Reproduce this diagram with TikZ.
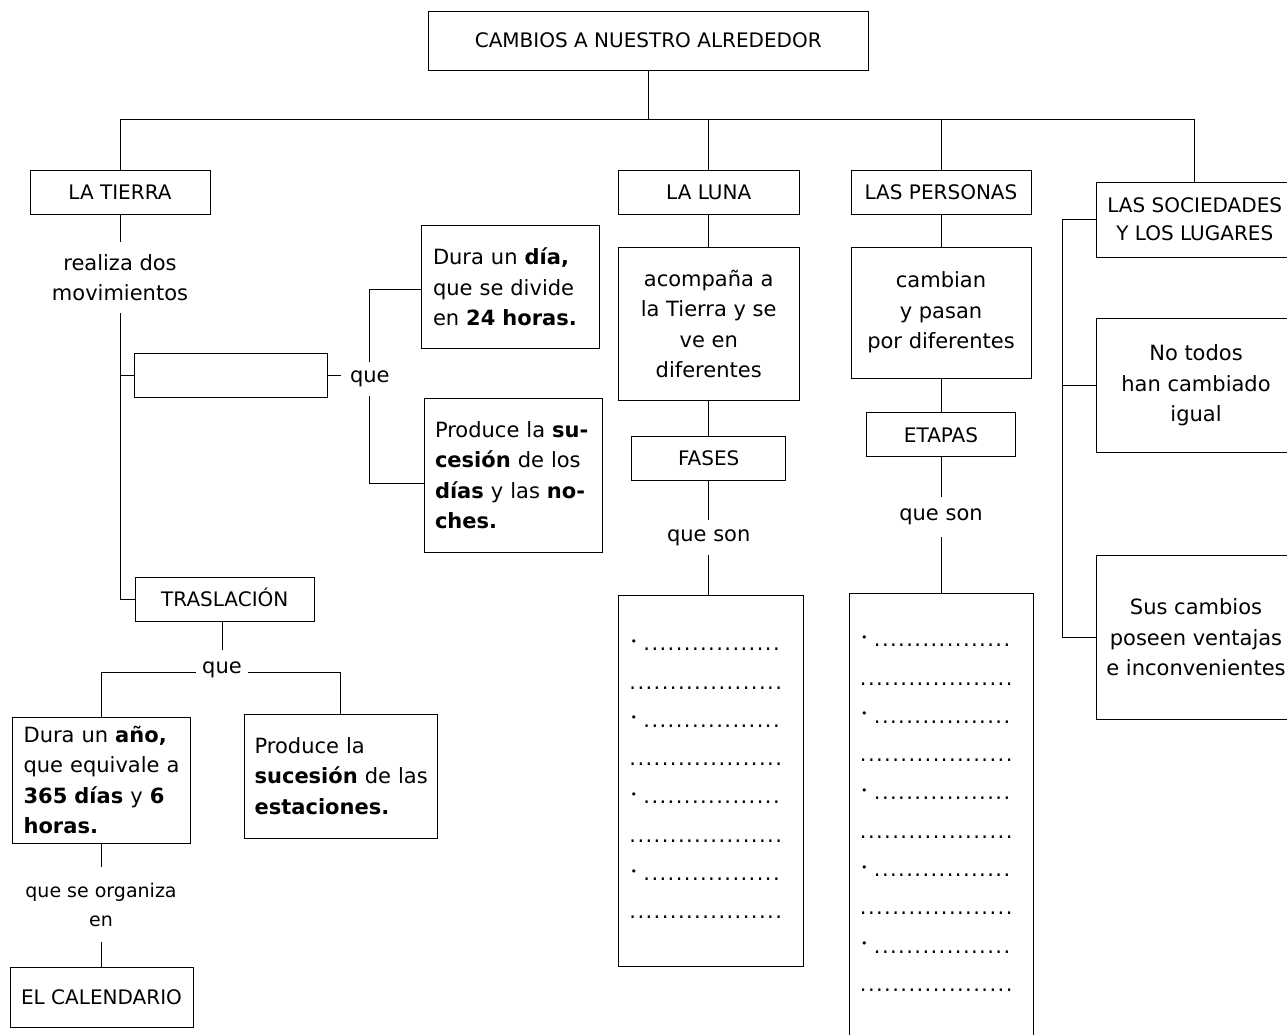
\documentclass[tikz,border=0pt]{standalone}
\usepackage{fontspec}
\setmainfont{DejaVu Sans}
\newcommand\mkdots[1]{\hbox to #1{\leaders\hbox to 8.1pt{\hss.\hss}\hfill}}
\newcommand\mkbul{\hbox{\hbox to 14pt{\hspace{2pt}\raisebox{5.5pt}{\fontsize{11}{11}\selectfont •}\hss}\mkdots{141.5pt}}}
\newcommand\mkplain{\mkdots{156pt}}
\begin{document}
\begin{tikzpicture}[x=1pt,y=-1pt,
  bx/.style={draw, line width=1pt, inner sep=0pt, align=center},
  capsf/.style={font=\fontsize{20}{28}\selectfont},
  capone/.style={capsf, text height=14.6pt, text depth=0pt},
  bodyf/.style={font=\fontsize{21}{30.5}\selectfont},
  lbl/.style={inner sep=0pt, align=center, bodyf},
  conn/.style={line width=1pt},
  dotl/.style={anchor=base west, inner sep=0pt, bodyf}]
\useasboundingbox (0,0) rectangle (1287,1034);
\clip (0,0) rectangle (1287,1034);

% top level
\node[bx,capone,minimum width=440.6pt,minimum height=59pt] (top) at (648.3,40.5) {CAMBIOS A NUESTRO ALREDEDOR};
\node[bx,capone,minimum width=180pt,minimum height=44pt] (tierra) at (120,192) {LA TIERRA};
\node[bx,capone,minimum width=180.6pt,minimum height=44pt] (luna) at (708.7,192) {LA LUNA};
\node[bx,capone,minimum width=180pt,minimum height=44pt] (personas) at (941,192) {LAS PERSONAS};
\node[bx,capsf,minimum width=196.5pt,minimum height=75pt] (soc) at (1194.75,219.5) {LAS SOCIEDADES\\Y LOS LUGARES};

% La Tierra
\node[lbl,minimum height=71pt] (realiza) at (120,277.5) {realiza dos\\movimientos};
\node[bx,minimum width=193pt,minimum height=44pt] (empty) at (230.5,375) {};
\node[lbl,inner xsep=9pt,minimum height=34pt] (que1) at (369.8,379) {que};
\node[bx,bodyf,align=left,text width=154.6pt,inner xsep=11.4pt,minimum height=122.3pt] (dia) at (510.3,286.9)
  {\mbox{Dura un \textbf{día,}}\\\mbox{que se divide}\\\mbox{en \textbf{24 horas.}}};
\node[bx,bodyf,align=left,text width=156pt,inner xsep=11pt,minimum height=154pt] (prod1) at (513,475)
  {\mbox{Produce la \textbf{su-}}\\\mbox{\textbf{cesión} de los}\\\mbox{\textbf{días} y las \textbf{no-}}\\\mbox{\textbf{ches.}}};
\node[bx,capone,minimum width=178.4pt,minimum height=44pt] (tras) at (224.8,599) {TRASLACIÓN};
\node[lbl,inner xsep=6pt,minimum height=38.8pt] (que2) at (222,669.4) {que};
\node[bx,bodyf,align=left,text width=154.8pt,inner xsep=11.6pt,minimum height=126pt] (ano) at (101,780)
  {\mbox{Dura un \textbf{año,}}\\\mbox{que equivale a}\\\mbox{\textbf{365 días} y \textbf{6}}\\\mbox{\textbf{horas.}}};
\node[bx,bodyf,align=left,text width=171.8pt,inner xsep=10.6pt,minimum height=124pt] (prod2) at (340.5,776)
  {\mbox{Produce la}\\\mbox{\textbf{sucesión} de las}\\\mbox{\textbf{estaciones.}}};
\node[lbl,font=\fontsize{19}{29}\selectfont,minimum height=75pt] (orgen) at (101,904.5) {que se organiza\\en};
\node[bx,capone,minimum width=183pt,minimum height=60pt] (cal) at (101.5,997) {EL CALENDARIO};

% La Luna
\node[bx,bodyf,minimum width=180.6pt,minimum height=153.7pt] (lunabox) at (708.7,323.9) {acompaña a\\la Tierra y se\\ve en\\diferentes};
\node[bx,capone,minimum width=154.5pt,minimum height=44pt] (fases) at (708.7,458) {FASES};
\node[lbl,minimum height=35pt] (queson1) at (708.7,537.5) {que son};
\node[bx,minimum width=185.4pt,minimum height=371pt] (lunadots) at (711.1,780.5) {};
\foreach \k in {0,2,4,6} \node[dotl] (lb\k) at (628.5,{650.7+38.3*\k}) {\mkbul};
\foreach \k in {1,3,5,7} \node[dotl] (lb\k) at (628.5,{650.7+38.3*\k}) {\mkplain};

% Las personas
\node[bx,bodyf,minimum width=180pt,minimum height=131pt] (persbox) at (941,312.5) {cambian\\y pasan\\por diferentes};
\node[bx,capone,minimum width=149pt,minimum height=44pt] (etapas) at (941,434.7) {ETAPAS};
\node[lbl,minimum height=40pt] (queson2) at (941,516.7) {que son};
\node[bx,minimum width=184.8pt,minimum height=452pt] (persdots) at (941.4,819) {};
\foreach \k in {0,2,4,6,8} \node[dotl] (pb\k) at (859,{646.7+38.3*\k}) {\mkbul};
\foreach \k in {1,3,5,7,9} \node[dotl] (pb\k) at (859,{646.7+38.3*\k}) {\mkplain};

% Las sociedades
\node[bx,bodyf,minimum width=199pt,minimum height=134.7pt] (notodos) at (1196,385.35) {No todos\\han cambiado\\igual};
\node[bx,bodyf,minimum width=199pt,minimum height=163.3pt] (sus) at (1196,637.35) {Sus cambios\\poseen ventajas\\e inconvenientes};

% connectors
\coordinate (hub) at (646,119);
\coordinate (sv) at (1062.3,0);
\draw[conn] (top.south) -- (top.south |- hub);
\draw[conn] (tierra.north) -- (tierra.north |- hub) -- (hub -| soc.north) -- (soc.north);
\draw[conn] (luna.north) -- (luna.north |- hub);
\draw[conn] (personas.north) -- (personas.north |- hub);

\draw[conn] (tierra.south) -- (realiza.north);
\draw[conn] (realiza.south) |- (tras.west);
\draw[conn] (empty.west) -- (empty.west -| realiza.south);
\draw[conn] (empty.east) -- (empty.east -| que1.west);
\draw[conn] (que1.north) |- ([yshift=-3pt]dia.west);
\draw[conn] (que1.south) |- ([yshift=-8pt]prod1.west);
\draw[conn] (que2.north) -- (que2.north |- tras.south);
\draw[conn] ([yshift=-2.8pt]que2.west) -| (ano.north);
\draw[conn] ([yshift=-2.8pt]que2.east) -| (prod2.north);
\draw[conn] (ano.south) -- (orgen.north);
\draw[conn] (orgen.south) -- (orgen.south |- cal.north);

\draw[conn] (luna.south) -- (lunabox.north);
\draw[conn] (lunabox.south) -- (fases.north);
\draw[conn] (fases.south) -- (queson1.north);
\draw[conn] (queson1.south) -- (queson1.south |- lunadots.north);

\draw[conn] (personas.south) -- (persbox.north);
\draw[conn] (persbox.south) -- (etapas.north);
\draw[conn] (etapas.south) -- (queson2.north);
\draw[conn] (queson2.south) -- (queson2.south |- persdots.north);

\draw[conn] (soc.west) -- (soc.west -| sv) -- (sus.west -| sv) -- (sus.west);
\draw[conn] (notodos.west) -- (notodos.west -| sv);
\end{tikzpicture}
\end{document}
